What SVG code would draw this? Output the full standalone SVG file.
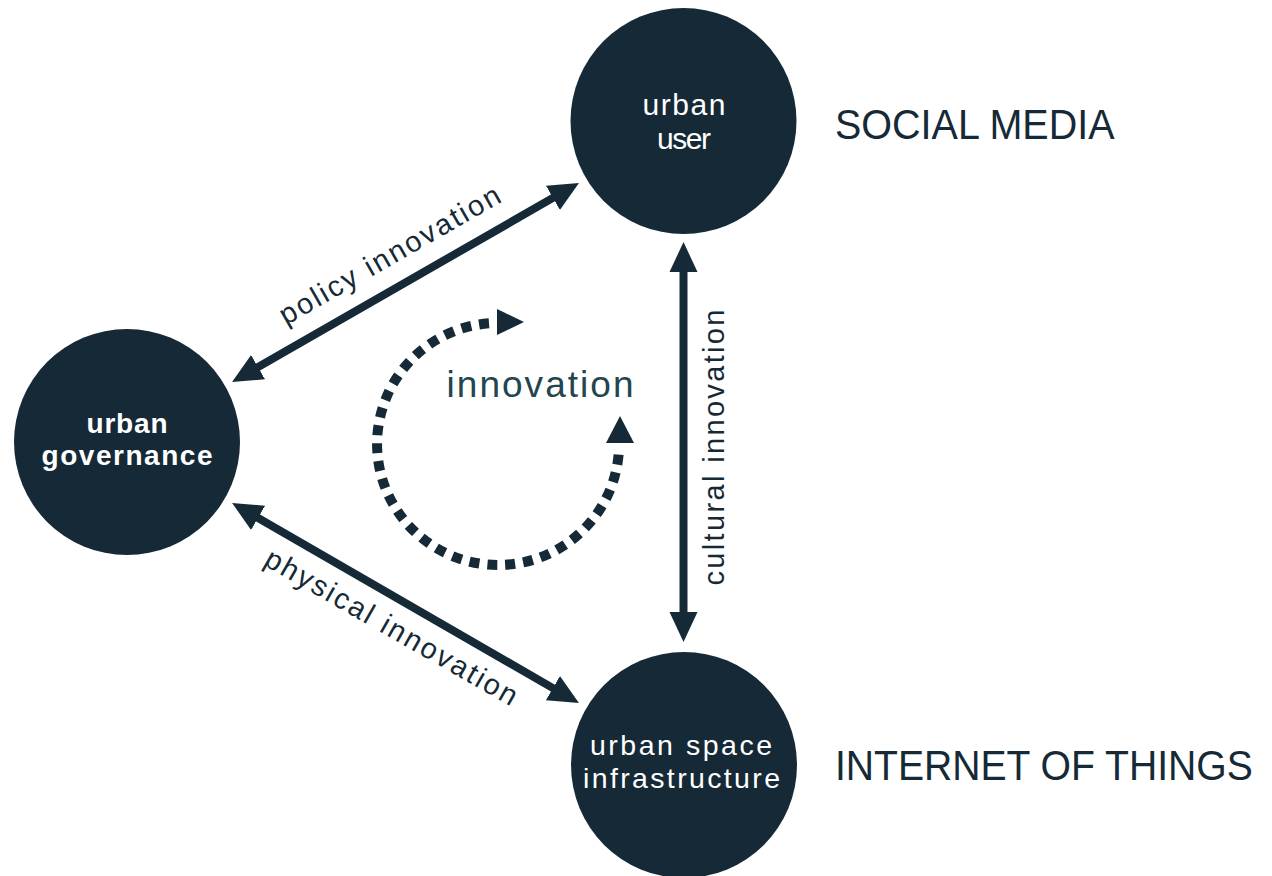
<svg xmlns="http://www.w3.org/2000/svg" width="1272" height="876" viewBox="0 0 1272 876">
<defs>
<style>
.node{fill:#152a36}
.nl{fill:#ffffff;font-family:"Liberation Sans",Arial,sans-serif;font-size:30px;text-anchor:middle}
.nb{font-weight:bold;font-size:28px}
.ni{font-size:28.5px}
.lbl{fill:#152a36;font-family:"Liberation Sans",Arial,sans-serif;font-size:29px;text-anchor:middle}
.big{fill:#152a36;font-family:"Liberation Sans",Arial,sans-serif;font-size:39.5px}
.conn{stroke:#152a36;stroke-width:8;fill:none}
.dash{stroke:#152a36;stroke-width:10;fill:none;stroke-dasharray:10 8}
.head{fill:#152a36}
</style>
<marker id="ah" markerUnits="userSpaceOnUse" markerWidth="32" markerHeight="30" refX="4" refY="14" orient="auto-start-reverse" viewBox="0 0 32 28">
<path d="M0,0 L30,14 L0,28 z" class="head"/>
</marker>
</defs>
<rect width="1272" height="876" fill="#ffffff"/>

<g id="connectors">
<line class="conn" x1="254.6" y1="369.1" x2="556.4" y2="195.9" marker-start="url(#ah)" marker-end="url(#ah)"/>
<line class="conn" x1="254.6" y1="515.9" x2="556.4" y2="690.1" marker-start="url(#ah)" marker-end="url(#ah)"/>
<line class="conn" x1="683.5" y1="268" x2="683.5" y2="616" marker-start="url(#ah)" marker-end="url(#ah)"/>
<text class="lbl" transform="translate(405.5,282.5) rotate(-29.8)" x="0" y="-22" textLength="250" lengthAdjust="spacing">policy innovation</text>
<text class="lbl" transform="translate(405.5,602.5) rotate(29.8)" x="0" y="38" textLength="286" lengthAdjust="spacing">physical innovation</text>
<text class="lbl" transform="translate(724,447.5) rotate(-90)" x="0" y="0" textLength="276" lengthAdjust="spacing">cultural innovation</text>
</g>

<g id="innovation-cycle">
<path class="dash" d="M 489 323.3 A 121 121 0 1 0 619 448"/>
<polygon class="head" points="497,309 524,322 497,335"/>
<polygon class="head" points="606,443 620,416 634,443"/>
<text x="540" y="397" fill="#234550" font-family="'Liberation Sans',Arial,sans-serif" font-size="37" text-anchor="middle" textLength="187" lengthAdjust="spacing">innovation</text>
</g>

<g id="node-user">
<circle class="node" cx="683.5" cy="121" r="113"/>
<text class="nl" x="684" y="115" textLength="83" lengthAdjust="spacing">urban</text>
<text class="nl" x="684" y="149" textLength="54" lengthAdjust="spacing">user</text>
</g>

<g id="node-governance">
<circle class="node" cx="127" cy="442" r="113"/>
<text class="nl nb" x="127" y="433" textLength="81" lengthAdjust="spacing">urban</text>
<text class="nl nb" x="127" y="464.5" textLength="171" lengthAdjust="spacing">governance</text>
</g>

<g id="node-infrastructure">
<circle class="node" cx="684" cy="765" r="113"/>
<text class="nl ni" x="681" y="755" textLength="182" lengthAdjust="spacing">urban space</text>
<text class="nl ni" x="681.5" y="787.5" textLength="197" lengthAdjust="spacing">infrastructure</text>
</g>

<g id="label-social-media">
<text class="big" transform="translate(835,139) scale(1,1.08)" x="0" y="0">SOCIAL MEDIA</text>
</g>
<g id="label-iot">
<text class="big" transform="translate(835,780) scale(0.99,1.08)" x="0" y="0">INTERNET OF THINGS</text>
</g>
</svg>
